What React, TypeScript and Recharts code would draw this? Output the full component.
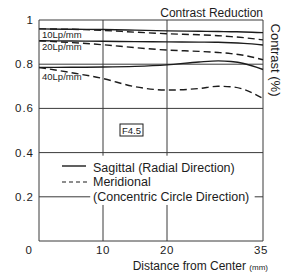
import { LineChart, Line, XAxis, YAxis, ReferenceLine } from "recharts";

// distance from image centre (mm)
const distance = [0, 5, 10, 15, 20, 25, 28, 30, 32, 35];

// contrast values
const sag10 = [0.96, 0.958, 0.957, 0.954, 0.951, 0.949, 0.948, 0.947, 0.946, 0.943];
const mer10 = [0.96, 0.958, 0.953, 0.945, 0.938, 0.933, 0.929, 0.925, 0.92, 0.91];
const sag20 = [0.906, 0.905, 0.904, 0.902, 0.901, 0.9, 0.899, 0.897, 0.894, 0.887];
const mer20 = [0.906, 0.898, 0.888, 0.875, 0.864, 0.858, 0.853, 0.848, 0.84, 0.82];
const sag40 = [0.785, 0.786, 0.787, 0.79, 0.797, 0.81, 0.815, 0.812, 0.803, 0.776];
const mer40 = [0.785, 0.762, 0.735, 0.698, 0.683, 0.69, 0.7, 0.698, 0.686, 0.645];

const xTicks = [0, 10, 20, 35];
const yTicks = [0.2, 0.4, 0.6, 0.8, 1];
const hGrid = [0.4, 0.6, 0.8];
const vGrid = [10, 20];

const data = distance.map((d, i) => ({
  d,
  sag10: sag10[i],
  mer10: mer10[i],
  sag20: sag20[i],
  mer20: mer20[i],
  sag40: sag40[i],
  mer40: mer40[i],
}));

const FONT = "'Liberation Sans', Arial, Helvetica, sans-serif";
const INK = "#1c1c1c";
const GRID = "#3a3a3a";

function XTick({ x, y, payload }: any) {
  const v = payload.value;
  const dx = v === 0 ? -10 : v === 35 ? -2 : 0;
  return (
    <text x={x + dx} y={y + 13} textAnchor="middle" fontSize={11.5} fontFamily={FONT} fill={INK} letterSpacing={0.5}>
      {v}
    </text>
  );
}

function YTick({ x, y, payload }: any) {
  const v = payload.value;
  return (
    <text x={x} y={y + 4} textAnchor="end" fontSize={11.5} fontFamily={FONT} fill={INK} letterSpacing={1}>
      {v === 1 ? "1" : v.toFixed(1)}
    </text>
  );
}

const lineProps = {
  type: "monotone" as const,
  stroke: INK,
  strokeWidth: 1.4,
  dot: false,
  activeDot: false,
  isAnimationActive: false,
};

export default function App() {
  return (
    <div style={{ position: "absolute", left: 0, top: 0, width: 294, height: 273, background: "#fff" }}>
      <LineChart width={294} height={273} data={data} margin={{ top: 20, right: 31, bottom: 0, left: 0 }}>
        <XAxis
          dataKey="d"
          type="number"
          domain={[0, 35]}
          ticks={xTicks}
          height={32}
          tickLine={false}
          tickSize={0}
          tickMargin={0}
          stroke={GRID}
          tick={<XTick />}
        />
        <YAxis
          type="number"
          domain={[0, 1]}
          ticks={yTicks}
          width={39}
          tickLine={false}
          tickSize={0}
          tickMargin={5}
          stroke={GRID}
          tick={<YTick />}
        />
        <ReferenceLine y={1} stroke={GRID} strokeWidth={1} />
        <ReferenceLine x={35} stroke={GRID} strokeWidth={1} />
        {hGrid.map((v) => (
          <ReferenceLine key={"h" + v} y={v} stroke={GRID} strokeWidth={1} />
        ))}
        <ReferenceLine segment={[{ x: 0, y: 0.2 }, { x: 8, y: 0.2 }]} stroke={GRID} strokeWidth={1} />
        <ReferenceLine segment={[{ x: 33.7, y: 0.2 }, { x: 35, y: 0.2 }]} stroke={GRID} strokeWidth={1} />
        {vGrid.map((v) => (
          <ReferenceLine key={"va" + v} segment={[{ x: v, y: 0 }, { x: v, y: 0.163 }]} stroke={GRID} strokeWidth={1} />
        ))}
        {vGrid.map((v) => (
          <ReferenceLine key={"vb" + v} segment={[{ x: v, y: 0.386 }, { x: v, y: 1 }]} stroke={GRID} strokeWidth={1} />
        ))}

        <Line dataKey="sag10" {...lineProps} />
        <Line dataKey="mer10" {...lineProps} strokeDasharray="7 4" />
        <Line dataKey="sag20" {...lineProps} />
        <Line dataKey="mer20" {...lineProps} strokeDasharray="7 4" />
        <Line dataKey="sag40" {...lineProps} />
        <Line dataKey="mer40" {...lineProps} strokeDasharray="7 4" />

        <text x={263} y={17} textAnchor="end" fontSize={12} fontFamily={FONT} fill={INK}>
          Contrast Reduction
        </text>
        <text x={271} y={60} transform="rotate(90 271 60)" textAnchor="middle" fontSize={13} fontFamily={FONT} fill={INK}>
          Contrast (%)
        </text>
        <text x={268} y={270} textAnchor="end" fontFamily={FONT} fill={INK}>
          <tspan fontSize={12}>Distance from Center </tspan>
          <tspan fontSize={8}>(mm)</tspan>
        </text>

        <text x={42} y={37.5} fontSize={9.5} fontFamily={FONT} fill={INK}>10Lp/mm</text>
        <text x={42} y={50} fontSize={9.5} fontFamily={FONT} fill={INK}>20Lp/mm</text>
        <text x={42} y={80} fontSize={9.5} fontFamily={FONT} fill={INK}>40Lp/mm</text>

        <rect x={120} y={124} width={23} height={12} fill="#fff" stroke={INK} strokeWidth={1} />
        <text x={131.5} y={133.5} textAnchor="middle" fontSize={9.5} fontFamily={FONT} fill={INK}>F4.5</text>

        <line x1={62} y1={166} x2={86} y2={166} stroke={INK} strokeWidth={1.4} />
        <text x={93} y={172} fontSize={12.5} fontFamily={FONT} fill={INK}>Sagittal (Radial Direction)</text>
        <line x1={62} y1={182} x2={87} y2={182} stroke={INK} strokeWidth={1.2} strokeDasharray="4 3" />
        <text x={93} y={186} fontSize={12.5} fontFamily={FONT} fill={INK}>Meridional</text>
        <text x={93} y={201} fontSize={12.5} fontFamily={FONT} fill={INK}>(Concentric Circle Direction)</text>
      </LineChart>
    </div>
  );
}
